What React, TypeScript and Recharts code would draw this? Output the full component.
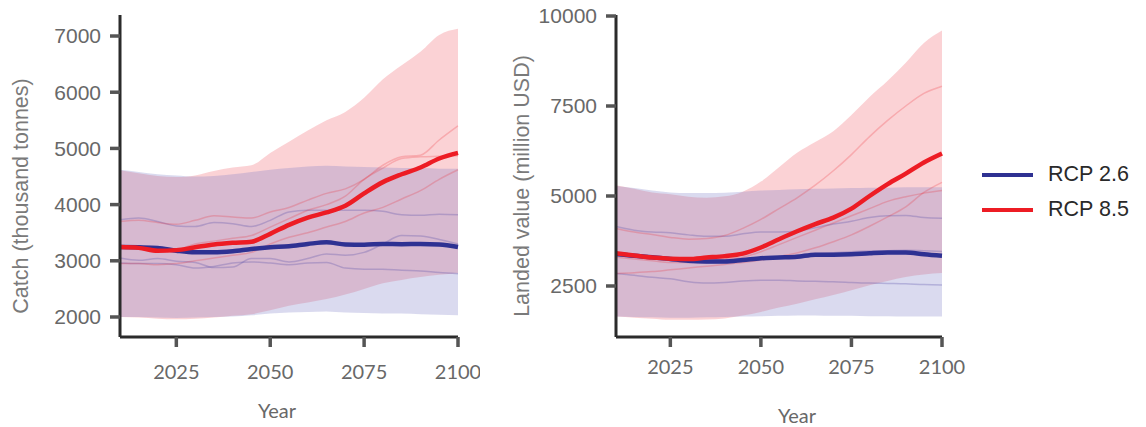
import { Area, ComposedChart, Line, XAxis, YAxis } from "recharts";

const YEARS = [2010, 2015, 2020, 2025, 2030, 2035, 2040, 2045, 2050, 2055, 2060, 2065, 2070, 2075, 2080, 2085, 2090, 2095, 2100];
const X_TICKS = [2025, 2050, 2075, 2100];

// catch, thousand tonnes
const CATCH_RCP26_MEAN = [3245, 3240, 3230, 3180, 3150, 3150, 3170, 3210, 3240, 3260, 3300, 3330, 3290, 3285, 3300, 3295, 3300, 3290, 3245];
const CATCH_RCP85_MEAN = [3245, 3230, 3180, 3190, 3240, 3290, 3320, 3340, 3480, 3640, 3770, 3860, 3980, 4200, 4400, 4540, 4660, 4820, 4920];
const CATCH_RCP26_LO = [2000, 2000, 1990, 1980, 1990, 2000, 2010, 2030, 2060, 2080, 2090, 2100, 2080, 2070, 2060, 2060, 2050, 2040, 2030];
const CATCH_RCP26_HI = [4620, 4580, 4540, 4520, 4500, 4510, 4540, 4580, 4620, 4650, 4680, 4690, 4680, 4670, 4660, 4650, 4650, 4640, 4640];
const CATCH_RCP85_LO = [2000, 1990, 1970, 1960, 1970, 1990, 2020, 2050, 2120, 2200, 2260, 2320, 2400, 2500, 2600, 2660, 2710, 2750, 2780];
const CATCH_RCP85_HI = [4610, 4560, 4510, 4490, 4520, 4600, 4660, 4700, 4920, 5120, 5320, 5500, 5650, 5900, 6230, 6480, 6720, 7020, 7130];
const CATCH_RCP26_MODELS = [
  [3730, 3760, 3700, 3620, 3610, 3680, 3660, 3610, 3720, 3870, 3900, 3900, 3900, 3900, 3880, 3820, 3810, 3830, 3820],
  [3050, 3010, 3040, 2990, 2970, 2880, 2890, 3040, 3040, 2980, 3040, 3120, 3100, 3150, 3300, 3450, 3440, 3380, 3300],
  [2960, 2950, 2950, 2930, 2870, 2900, 2960, 2980, 2960, 2930, 2960, 2970, 2870, 2850, 2850, 2830, 2820, 2790, 2770],
];
const CATCH_RCP85_MODELS = [
  [3700, 3720, 3680, 3650, 3720, 3800, 3780, 3760, 3870, 3950, 4080, 4200, 4280, 4450, 4700, 4850, 4880, 5150, 5400],
  [3250, 3230, 3200, 3200, 3300, 3350, 3400, 3450, 3600, 3750, 3900, 4000, 4150, 4450, 4650, 4820, 4850, 4860, 4870],
  [2950, 2950, 2930, 2950, 3000, 3050, 3100, 3150, 3300, 3420, 3500, 3600, 3700, 3850, 3950, 4100, 4250, 4450, 4620],
];
const CATCH_TICKS = [2000, 3000, 4000, 5000, 6000, 7000];

// landed value, million USD
const VALUE_RCP26_MEAN = [3390, 3340, 3300, 3250, 3200, 3180, 3180, 3220, 3270, 3290, 3310, 3370, 3370, 3380, 3410, 3430, 3430, 3380, 3340];
const VALUE_RCP85_MEAN = [3410, 3350, 3290, 3260, 3250, 3290, 3330, 3400, 3570, 3800, 4020, 4220, 4400, 4650, 5000, 5330, 5620, 5930, 6180];
const VALUE_RCP26_LO = [1650, 1640, 1630, 1620, 1620, 1630, 1640, 1650, 1660, 1670, 1680, 1680, 1670, 1670, 1660, 1660, 1650, 1650, 1650];
const VALUE_RCP26_HI = [5280, 5220, 5150, 5100, 5080, 5080, 5090, 5120, 5150, 5170, 5190, 5200, 5210, 5220, 5230, 5230, 5240, 5240, 5240];
const VALUE_RCP85_LO = [1650, 1620, 1590, 1560, 1560, 1570, 1600, 1680, 1780, 1900, 2010, 2130, 2250, 2380, 2520, 2640, 2750, 2820, 2860];
const VALUE_RCP85_HI = [5300, 5200, 5100, 5050, 4980, 4950, 4990, 5120, 5400, 5800, 6200, 6500, 6800, 7250, 7750, 8200, 8700, 9250, 9600];
const VALUE_RCP26_MODELS = [
  [4150, 4050, 4000, 3980, 3920, 3880, 3880, 3950, 4000, 4000, 4020, 4120, 4220, 4300, 4400, 4450, 4460, 4400, 4380],
  [3350, 3300, 3260, 3200, 3150, 3130, 3150, 3200, 3260, 3300, 3350, 3400, 3420, 3450, 3470, 3480, 3490, 3480, 3460],
  [2850, 2800, 2740, 2700, 2620, 2580, 2600, 2640, 2660, 2660, 2640, 2630, 2620, 2600, 2580, 2570, 2560, 2540, 2530],
];
const VALUE_RCP85_MODELS = [
  [4100, 4000, 3930, 3850, 3800, 3820, 3900, 4100, 4350, 4650, 4950, 5300, 5700, 6150, 6650, 7100, 7500, 7850, 8050],
  [3300, 3250, 3200, 3150, 3150, 3200, 3250, 3300, 3450, 3650, 3850, 4050, 4250, 4450, 4650, 4850, 4980, 5080, 5150],
  [2850, 2870, 2900, 2950, 3000, 3050, 3100, 3150, 3220, 3320, 3420, 3560, 3730, 3920, 4160, 4420, 4700, 5100, 5380],
];
const VALUE_TICKS = [2500, 5000, 7500, 10000];

const BLUE = "#2E3192";
const RED = "#ED1C24";
const AXIS = "#2b2b2b";
const TICK_TEXT = "#686868";
const LABEL_TEXT = "#7a7a7a";
const SANS = "'Liberation Sans', Arial, sans-serif";
const HUMANIST = "Lato, 'Open Sans', sans-serif";

interface PanelData {
  mean26: number[];
  mean85: number[];
  lo26: number[];
  hi26: number[];
  lo85: number[];
  hi85: number[];
  models26: number[][];
  models85: number[][];
}

function buildRows(d: PanelData) {
  return YEARS.map((year, i) => {
    const row: Record<string, number | number[]> = {
      year,
      mean26: d.mean26[i],
      mean85: d.mean85[i],
      band26: [d.lo26[i], d.hi26[i]],
      band85: [d.lo85[i], d.hi85[i]],
    };
    d.models26.forEach((m, k) => (row[`m26_${k}`] = m[i]));
    d.models85.forEach((m, k) => (row[`m85_${k}`] = m[i]));
    return row;
  });
}

interface PanelProps {
  left: number;
  data: PanelData;
  domain: [number, number];
  yTicks: number[];
  yLabel: string;
  yAxisWidth: number;
  marginRight: number;
  yLabelOffset: number;
  yLabelDy: number;
  xTickMargin: number;
  yearDx: number;
  yearOffset: number;
}

function Panel(p: PanelProps) {
  const rows = buildRows(p.data);
  return (
    <div style={{ position: "absolute", left: p.left, top: 0 }}>
      <ComposedChart
        width={480}
        height={427}
        data={rows}
        margin={{ top: 15, right: p.marginRight, bottom: 9, left: 0 }}
      >
        <XAxis
          dataKey="year"
          type="number"
          domain={[2010, 2100]}
          ticks={X_TICKS}
          height={81}
          axisLine={{ stroke: AXIS, strokeWidth: 3 }}
          tickLine={{ stroke: "#555", strokeWidth: 3.5 }}
          tickSize={10}
          tickMargin={p.xTickMargin}
          tick={{ fill: TICK_TEXT, fontSize: 20, fontFamily: HUMANIST }}
          label={{
            value: "Year",
            position: "insideBottom",
            offset: p.yearOffset,
            dx: p.yearDx,
            style: { fill: TICK_TEXT, fontSize: 20, fontFamily: HUMANIST },
          }}
        />
        <YAxis
          type="number"
          domain={p.domain}
          allowDataOverflow
          ticks={p.yTicks}
          width={p.yAxisWidth}
          axisLine={{ stroke: AXIS, strokeWidth: 3 }}
          tickLine={{ stroke: "#555", strokeWidth: 3.5 }}
          tickSize={10}
          tickMargin={9}
          tick={{ fill: TICK_TEXT, fontSize: 21, fontFamily: SANS }}
          label={{
            value: p.yLabel,
            angle: -90,
            position: "insideLeft",
            offset: p.yLabelOffset,
            dy: p.yLabelDy,
            style: { textAnchor: "middle", fill: LABEL_TEXT, fontSize: 21.5, fontFamily: SANS },
          }}
        />
        <Area
          dataKey="band85"
          type="monotone"
          stroke="none"
          fill="#F0444E"
          fillOpacity={0.24}
          isAnimationActive={false}
          activeDot={false}
        />
        <Area
          dataKey="band26"
          type="monotone"
          stroke="none"
          fill="#7B7BC4"
          fillOpacity={0.28}
          isAnimationActive={false}
          activeDot={false}
        />
        {p.data.models26.map((_, k) => (
          <Line
            key={`m26_${k}`}
            dataKey={`m26_${k}`}
            type="monotone"
            stroke="#5A4FA8"
            strokeOpacity={0.3}
            strokeWidth={1.5}
            dot={false}
            activeDot={false}
            isAnimationActive={false}
          />
        ))}
        {p.data.models85.map((_, k) => (
          <Line
            key={`m85_${k}`}
            dataKey={`m85_${k}`}
            type="monotone"
            stroke={RED}
            strokeOpacity={0.22}
            strokeWidth={1.5}
            dot={false}
            activeDot={false}
            isAnimationActive={false}
          />
        ))}
        <Line
          dataKey="mean26"
          type="monotone"
          stroke={BLUE}
          strokeWidth={4.5}
          dot={false}
          activeDot={false}
          isAnimationActive={false}
        />
        <Line
          dataKey="mean85"
          type="monotone"
          stroke={RED}
          strokeWidth={4.5}
          dot={false}
          activeDot={false}
          isAnimationActive={false}
        />
      </ComposedChart>
    </div>
  );
}

const LEGEND = [
  { name: "RCP 2.6", color: BLUE },
  { name: "RCP 8.5", color: RED },
];

function LegendBox() {
  return (
    <div style={{ position: "absolute", left: 982, top: 157 }}>
      {LEGEND.map((item) => (
        <div
          key={item.name}
          style={{ display: "flex", alignItems: "center", height: 35, fontFamily: SANS, fontSize: 21.5, color: "#2a2a2a" }}
        >
          <div style={{ width: 51, height: 4, background: item.color, marginRight: 15 }} />
          <span>{item.name}</span>
        </div>
      ))}
    </div>
  );
}

export default function App() {
  return (
    <div style={{ position: "absolute", left: 0, top: 0, width: 1146, height: 427, background: "#fff" }}>
      <Panel
        left={0}
        data={{
          mean26: CATCH_RCP26_MEAN,
          mean85: CATCH_RCP85_MEAN,
          lo26: CATCH_RCP26_LO,
          hi26: CATCH_RCP26_HI,
          lo85: CATCH_RCP85_LO,
          hi85: CATCH_RCP85_HI,
          models26: CATCH_RCP26_MODELS,
          models85: CATCH_RCP85_MODELS,
        }}
        domain={[1644, 7374]}
        yTicks={CATCH_TICKS}
        yLabel="Catch (thousand tonnes)"
        yAxisWidth={120}
        marginRight={22}
        yLabelOffset={20}
        yLabelDy={20}
        xTickMargin={18}
        yearDx={-12}
        yearOffset={0}
      />
      <Panel
        left={490}
        data={{
          mean26: VALUE_RCP26_MEAN,
          mean85: VALUE_RCP85_MEAN,
          lo26: VALUE_RCP26_LO,
          hi26: VALUE_RCP26_HI,
          lo85: VALUE_RCP85_LO,
          hi85: VALUE_RCP85_HI,
          models26: VALUE_RCP26_MODELS,
          models85: VALUE_RCP85_MODELS,
        }}
        domain={[1083, 10028]}
        yTicks={VALUE_TICKS}
        yLabel="Landed value (million USD)"
        yAxisWidth={126}
        marginRight={28}
        yLabelOffset={31}
        yLabelDy={10}
        xTickMargin={13}
        yearDx={18}
        yearOffset={-5}
      />
      <LegendBox />
    </div>
  );
}
